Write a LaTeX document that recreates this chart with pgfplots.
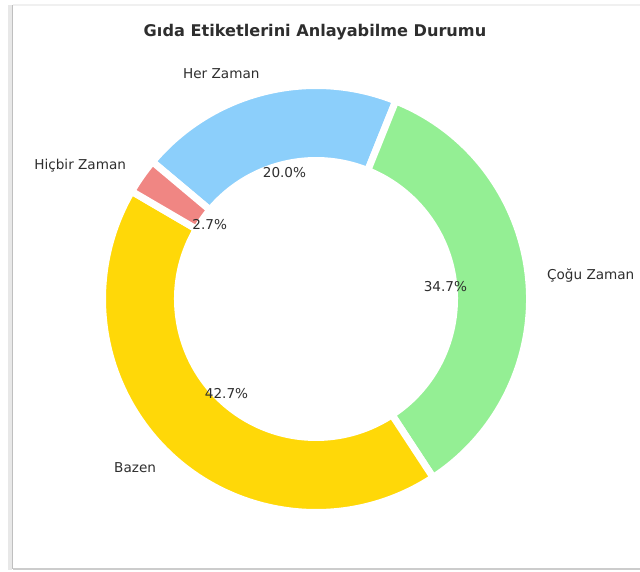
\documentclass[border=0pt]{standalone}
\usepackage{fontspec}
\setmainfont{DejaVu Sans}
\usepackage{pgfplots}
\usepackage{pgfplotstable}
\pgfplotsset{compat=1.18}

\definecolor{herc}{HTML}{8CCFFB}
\definecolor{cogc}{HTML}{94EF94}
\definecolor{bazc}{HTML}{FFD808}
\definecolor{hicc}{HTML}{F08683}
\definecolor{txt}{HTML}{2E2E2E}

% percentages, drawn clockwise from 140 degrees
\pgfplotstableread[col sep=comma]{
label,pct,color
Her Zaman,20.0,herc
Çoğu Zaman,34.7,cogc
Bazen,42.7,bazc
Hiçbir Zaman,2.7,hicc
}\donutdata

\begin{document}
\begin{tikzpicture}
\begin{axis}[
  x=0.75pt, y=0.75pt,
  xmin=0, xmax=640, ymin=0, ymax=572,
  hide axis, clip=false,
  ]
  % frame
  \draw[gray!18, line width=3pt] (axis cs:10,2) -- (axis cs:10,567);
  \draw[gray!50, line width=1.3pt] (axis cs:12.5,3) -- (axis cs:12.5,567);
  \draw[gray!12, line width=1pt] (axis cs:12.5,567) -- (axis cs:640,567);
  \draw[gray!40, line width=1.3pt] (axis cs:12.5,3) -- (axis cs:640,3);

  \node[font=\fontsize{12.1}{14}\selectfont\bfseries, text=txt]
    at (axis cs:315,540) {Gıda Etiketlerini Anlayabilme Durumu};

  \pgfmathsetmacro\total{0}
  \pgfplotsforeachungrouped \i in {0,...,3}{
    \pgfplotstablegetelem{\i}{pct}\of\donutdata
    \pgfmathsetmacro\total{\total+\pgfplotsretval}
  }
  \def\cx{316}\def\cy{273}
  \def\Ro{213.5}\def\Ri{138.5}
  \pgfmathsetmacro\cur{140}
  \pgfplotsforeachungrouped \i in {0,...,3}{
    \pgfplotstablegetelem{\i}{pct}\of\donutdata \let\v\pgfplotsretval
    \pgfplotstablegetelem{\i}{color}\of\donutdata \let\c\pgfplotsretval
    \pgfplotstablegetelem{\i}{label}\of\donutdata \let\lab\pgfplotsretval
    \pgfmathsetmacro\a{\cur}
    \pgfmathsetmacro\b{\cur-360*\v/\total}
    \pgfmathsetmacro\m{(\a+\b)/2}
    \pgfmathsetmacro\xo{\cx+\Ro*cos(\a)}
    \pgfmathsetmacro\yo{\cy+\Ro*sin(\a)}
    \pgfmathsetmacro\xi{\cx+\Ri*cos(\b)}
    \pgfmathsetmacro\yi{\cy+\Ri*sin(\b)}
    \pgfmathsetmacro\Rop{0.75*\Ro}
    \pgfmathsetmacro\Rip{0.75*\Ri}
    \pgfmathsetmacro\px{\cx+130*cos(\m)}
    \pgfmathsetmacro\py{\cy+130*sin(\m)}
    \pgfmathsetmacro\lx{\cx+232*cos(\m)}
    \pgfmathsetmacro\ly{\cy+232*sin(\m)}
    \pgfmathparse{cos(\m)}
    \ifdim\pgfmathresult pt>0pt \def\anc{west}\else\def\anc{east}\fi
    \edef\temp{%
      \noexpand\fill[\c, draw=white, line width=5.25pt, line join=miter]
        (axis cs:\xo,\yo) arc[start angle=\a, end angle=\b, radius=\Rop pt]
        -- (axis cs:\xi,\yi) arc[start angle=\b, end angle=\a, radius=\Rip pt]
        -- cycle;
      \noexpand\node[font=\noexpand\fontsize{10.2}{12}\noexpand\selectfont, text=txt]
        at (axis cs:\px,\py) {\noexpand\pgfmathprintnumber[fixed, fixed zerofill, precision=1, assume math mode=true]{\v}\noexpand\%};
      \noexpand\node[font=\noexpand\fontsize{10.2}{12}\noexpand\selectfont, text=txt, anchor=\anc, inner sep=0pt]
        at (axis cs:\lx,\ly) {\lab};
    }
    \temp
    \let\cur\b
  }
\end{axis}
\pgfresetboundingbox
\path (0,0) rectangle (480pt,429pt);
\end{tikzpicture}
\end{document}
